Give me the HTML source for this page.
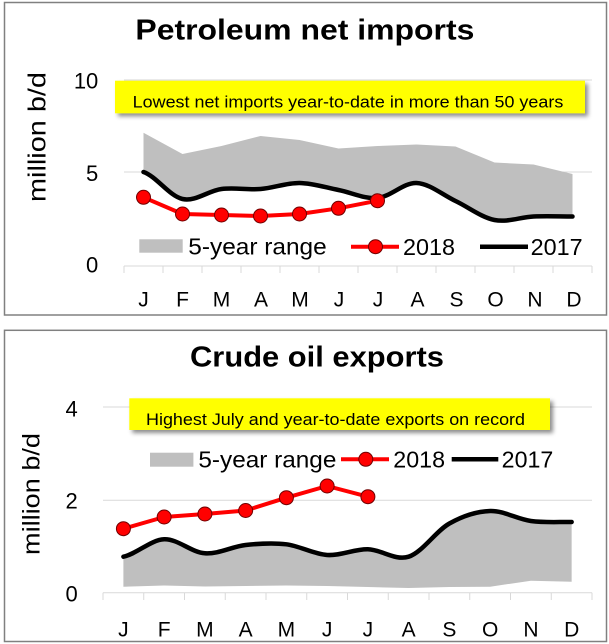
<!DOCTYPE html>
<html>
<head>
<meta charset="utf-8">
<style>
html,body{margin:0;padding:0;background:#fff;}
svg{display:block;}
text{font-family:"Liberation Sans",Arial,sans-serif;}
</style>
</head>
<body>
<svg width="609" height="644" viewBox="0 0 609 644" xmlns="http://www.w3.org/2000/svg">
<defs>
<filter id="sh" x="-5%" y="-30%" width="115%" height="180%">
<feDropShadow dx="3" dy="3" stdDeviation="2" flood-color="#000" flood-opacity="0.45"/>
</filter>
</defs>
<rect x="0" y="0" width="609" height="644" fill="#fff"/>

<!-- ================= TOP PANEL ================= -->
<rect x="4.5" y="2.5" width="602" height="312.5" fill="#fff" stroke="#808080" stroke-width="1.5"/>
<text x="135.4" y="39.3" font-size="29" font-weight="bold" textLength="339" lengthAdjust="spacingAndGlyphs">Petroleum net imports</text>

<!-- gridlines -->
<line x1="124" y1="80" x2="592" y2="80" stroke="#d9d9d9" stroke-width="1"/>
<line x1="124" y1="172" x2="592" y2="172" stroke="#d9d9d9" stroke-width="1"/>
<line x1="124" y1="266" x2="592" y2="266" stroke="#d9d9d9" stroke-width="1"/>
<g stroke="#d9d9d9" stroke-width="1">
<line x1="124" y1="266" x2="124" y2="273"/><line x1="163" y1="266" x2="163" y2="273"/>
<line x1="202" y1="266" x2="202" y2="273"/><line x1="241" y1="266" x2="241" y2="273"/>
<line x1="280" y1="266" x2="280" y2="273"/><line x1="319" y1="266" x2="319" y2="273"/>
<line x1="358" y1="266" x2="358" y2="273"/><line x1="397" y1="266" x2="397" y2="273"/>
<line x1="436" y1="266" x2="436" y2="273"/><line x1="475" y1="266" x2="475" y2="273"/>
<line x1="514" y1="266" x2="514" y2="273"/><line x1="553" y1="266" x2="553" y2="273"/>
<line x1="592" y1="266" x2="592" y2="273"/>
</g>

<!-- y labels -->
<g font-size="22" text-anchor="end" fill="#000">
<text x="98.3" y="88.3">10</text>
<text x="98.3" y="181">5</text>
<text x="98.3" y="272.3">0</text>
</g>
<text transform="translate(45.5,137) rotate(-90)" font-size="25" text-anchor="middle" textLength="130" lengthAdjust="spacingAndGlyphs">million b/d</text>

<!-- band -->
<path fill="#bfbfbf" d="M143.5,132.7 L182.5,154 L221.5,146 L260.5,136 L299.5,140 L338.5,148.5 L377.5,146 L416.5,144.5 L455.5,146.5 L494.5,162.5 L533.5,164.5 L572.5,174 L572.5,216.5
C559.5,216.5 546.5,215.92 533.5,216.5
C520.5,217.08 507.5,222.58 494.5,220
C481.5,217.42 468.5,207.17 455.5,201
C442.5,194.83 429.5,183.5 416.5,183
C403.5,182.5 390.5,196.83 377.5,198
C364.5,199.17 351.5,192.5 338.5,190
C325.5,187.5 312.5,183.17 299.5,183
C286.5,182.83 273.5,188 260.5,189
C247.5,190 234.5,187.33 221.5,189
C208.5,190.67 195.5,201.83 182.5,199
C169.5,196.17 156.5,176.5 143.5,172 Z"/>

<!-- 2017 -->
<path fill="none" stroke="#000" stroke-width="4.5" stroke-linecap="round" stroke-linejoin="round" d="M143.5,172 C156.5,176.5 169.5,196.17 182.5,199
C195.5,201.83 208.5,190.67 221.5,189
C234.5,187.33 247.5,190 260.5,189
C273.5,188 286.5,182.83 299.5,183
C312.5,183.17 325.5,187.5 338.5,190
C351.5,192.5 364.5,199.17 377.5,198
C390.5,196.83 403.5,182.5 416.5,183
C429.5,183.5 442.5,194.83 455.5,201
C468.5,207.17 481.5,217.42 494.5,220
C507.5,222.58 520.5,217.08 533.5,216.5
C546.5,215.92 559.5,216.5 572.5,216.5"/>

<!-- 2018 -->
<polyline fill="none" stroke="#ff0000" stroke-width="4" stroke-linejoin="round" points="143.5,197.3 182.5,214 221.5,215 260.5,216 299.5,214 338.5,208.3 377.5,200.7"/>
<g fill="#ff0000" stroke="#700000" stroke-width="1">
<circle cx="143.5" cy="197.3" r="7"/><circle cx="182.5" cy="214" r="7"/>
<circle cx="221.5" cy="215" r="7"/><circle cx="260.5" cy="216" r="7"/>
<circle cx="299.5" cy="214" r="7"/><circle cx="338.5" cy="208.3" r="7"/>
<circle cx="377.5" cy="200.7" r="7"/>
</g>

<!-- annotation -->
<rect x="115" y="80.7" width="470" height="32.6" fill="#ffff00" filter="url(#sh)"/>
<text x="132.7" y="107.3" font-size="17" textLength="430.6" lengthAdjust="spacingAndGlyphs">Lowest net imports year-to-date in more than 50 years</text>

<!-- legend -->
<rect x="139.3" y="239.3" width="43.4" height="13.4" fill="#bfbfbf"/>
<text x="188.3" y="254.5" font-size="23" textLength="138.4" lengthAdjust="spacingAndGlyphs">5-year range</text>
<line x1="351" y1="246.7" x2="399" y2="246.7" stroke="#ff0000" stroke-width="4"/>
<circle cx="375.5" cy="246.7" r="7" fill="#ff0000" stroke="#700000" stroke-width="1"/>
<text x="403" y="254.8" font-size="23" textLength="52" lengthAdjust="spacingAndGlyphs">2018</text>
<line x1="480" y1="246.7" x2="528" y2="246.7" stroke="#000" stroke-width="4.5"/>
<text x="530.7" y="254.8" font-size="23" textLength="52" lengthAdjust="spacingAndGlyphs">2017</text>

<!-- month labels -->
<g font-size="21" text-anchor="middle">
<text x="143.5" y="306.7">J</text><text x="182.5" y="306.7">F</text>
<text x="221.5" y="306.7">M</text><text x="261" y="306.7">A</text>
<text x="300" y="306.7">M</text><text x="339" y="306.7">J</text>
<text x="378" y="306.7">J</text><text x="417.5" y="306.7">A</text>
<text x="456.5" y="306.7">S</text><text x="495.5" y="306.7">O</text>
<text x="535" y="306.7">N</text><text x="574" y="306.7">D</text>
</g>

<!-- ================= BOTTOM PANEL ================= -->
<rect x="4.5" y="330.3" width="602" height="311.2" fill="#fff" stroke="#808080" stroke-width="1.5"/>
<text x="190" y="366.7" font-size="29" font-weight="bold" textLength="254" lengthAdjust="spacingAndGlyphs">Crude oil exports</text>

<line x1="103" y1="407" x2="592" y2="407" stroke="#d9d9d9" stroke-width="1"/>
<line x1="103" y1="500.3" x2="592" y2="500.3" stroke="#d9d9d9" stroke-width="1"/>
<line x1="103" y1="592.7" x2="592" y2="592.7" stroke="#d9d9d9" stroke-width="1"/>
<g stroke="#d9d9d9" stroke-width="1">
<line x1="103" y1="592.7" x2="103" y2="600"/><line x1="143.75" y1="592.7" x2="143.75" y2="600"/>
<line x1="184.5" y1="592.7" x2="184.5" y2="600"/><line x1="225.25" y1="592.7" x2="225.25" y2="600"/>
<line x1="266" y1="592.7" x2="266" y2="600"/><line x1="306.75" y1="592.7" x2="306.75" y2="600"/>
<line x1="347.5" y1="592.7" x2="347.5" y2="600"/><line x1="388.25" y1="592.7" x2="388.25" y2="600"/>
<line x1="429" y1="592.7" x2="429" y2="600"/><line x1="469.75" y1="592.7" x2="469.75" y2="600"/>
<line x1="510.5" y1="592.7" x2="510.5" y2="600"/><line x1="551.25" y1="592.7" x2="551.25" y2="600"/>
<line x1="592" y1="592.7" x2="592" y2="600"/>
</g>

<g font-size="22" text-anchor="end" fill="#000">
<text x="77.8" y="416.7">4</text>
<text x="77.8" y="508.5">2</text>
<text x="77.8" y="601.3">0</text>
</g>
<text transform="translate(39.3,494) rotate(-90)" font-size="24" text-anchor="middle" textLength="122" lengthAdjust="spacingAndGlyphs">million b/d</text>

<!-- band -->
<path fill="#bfbfbf" d="M123.4,556.7 C137,553.8 150.6,539.87 164.15,539.3
C177.7,538.73 191.3,552.35 204.9,553.3
C218.5,554.25 232.1,546.5 245.65,545
C259.2,543.5 272.8,542.63 286.4,544.3
C300,545.97 313.6,554.17 327.15,555
C340.7,555.83 354.3,549.02 367.9,549.3
C381.5,549.58 395.1,561 408.65,556.7
C422.2,552.4 435.8,531.12 449.4,523.5
C463,515.88 476.6,511.42 490.15,511
C503.7,510.58 517.3,519.17 530.9,521
C544.5,522.83 558.1,521.83 571.65,522
L571.65,581.7 L530.9,580.7 L490.15,586.7 L449.4,587 L408.65,588 L367.9,587 L327.15,586 L286.4,585.5 L245.65,586 L204.9,586.5 L164.15,585.5 L123.4,586.7 Z"/>

<path fill="none" stroke="#000" stroke-width="4.5" stroke-linecap="round" stroke-linejoin="round" d="M123.4,556.7 C137,553.8 150.6,539.87 164.15,539.3
C177.7,538.73 191.3,552.35 204.9,553.3
C218.5,554.25 232.1,546.5 245.65,545
C259.2,543.5 272.8,542.63 286.4,544.3
C300,545.97 313.6,554.17 327.15,555
C340.7,555.83 354.3,549.02 367.9,549.3
C381.5,549.58 395.1,561 408.65,556.7
C422.2,552.4 435.8,531.12 449.4,523.5
C463,515.88 476.6,511.42 490.15,511
C503.7,510.58 517.3,519.17 530.9,521
C544.5,522.83 558.1,521.83 571.65,522"/>

<polyline fill="none" stroke="#ff0000" stroke-width="4" stroke-linejoin="round" points="123.4,528.7 164.15,517 204.9,514 245.65,510.5 286.4,497.7 327.15,486 367.9,496.7"/>
<g fill="#ff0000" stroke="#700000" stroke-width="1">
<circle cx="123.4" cy="528.7" r="7"/><circle cx="164.15" cy="517" r="7"/>
<circle cx="204.9" cy="514" r="7"/><circle cx="245.65" cy="510.5" r="7"/>
<circle cx="286.4" cy="497.7" r="7"/><circle cx="327.15" cy="486" r="7"/>
<circle cx="367.9" cy="496.7" r="7"/>
</g>

<rect x="129.3" y="398.3" width="420.7" height="31.7" fill="#ffff00" filter="url(#sh)"/>
<text x="146" y="425" font-size="17" textLength="379" lengthAdjust="spacingAndGlyphs">Highest July and year-to-date exports on record</text>

<rect x="150" y="452.7" width="43.4" height="14" fill="#bfbfbf"/>
<text x="198.4" y="467.5" font-size="23" textLength="138" lengthAdjust="spacingAndGlyphs">5-year range</text>
<line x1="341" y1="459.3" x2="389" y2="459.3" stroke="#ff0000" stroke-width="4"/>
<circle cx="365.8" cy="459.3" r="7" fill="#ff0000" stroke="#700000" stroke-width="1"/>
<text x="393.3" y="467.5" font-size="23" textLength="51.7" lengthAdjust="spacingAndGlyphs">2018</text>
<line x1="451.7" y1="459.3" x2="498.3" y2="459.3" stroke="#000" stroke-width="4.5"/>
<text x="501.7" y="467.5" font-size="23" textLength="51.6" lengthAdjust="spacingAndGlyphs">2017</text>

<g font-size="21" text-anchor="middle">
<text x="123.4" y="636.7">J</text><text x="164.15" y="636.7">F</text>
<text x="204.9" y="636.7">M</text><text x="245.65" y="636.7">A</text>
<text x="286.4" y="636.7">M</text><text x="327.15" y="636.7">J</text>
<text x="367.9" y="636.7">J</text><text x="408.65" y="636.7">A</text>
<text x="449.4" y="636.7">S</text><text x="490.15" y="636.7">O</text>
<text x="530.9" y="636.7">N</text><text x="571.65" y="636.7">D</text>
</g>
</svg>
</body>
</html>
